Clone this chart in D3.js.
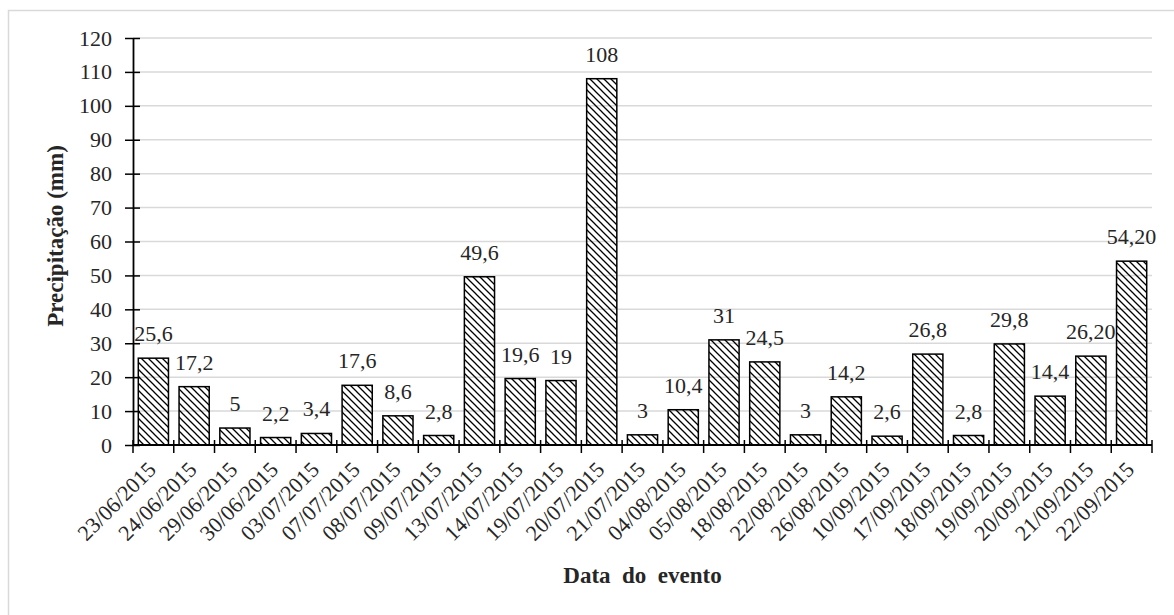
<!DOCTYPE html>
<html>
<head>
<meta charset="utf-8">
<script src="https://cdn.jsdelivr.net/npm/d3@7"></script>
<style>
  html, body { margin: 0; padding: 0; background: #fff; }
  svg { display: block; }
</style>
</head>
<body>
<div id="chart"></div>
<script>
const dates = ["23/06/2015", "24/06/2015", "29/06/2015", "30/06/2015", "03/07/2015",
  "07/07/2015", "08/07/2015", "09/07/2015", "13/07/2015", "14/07/2015", "19/07/2015",
  "20/07/2015", "21/07/2015", "04/08/2015", "05/08/2015", "18/08/2015", "22/08/2015",
  "26/08/2015", "10/09/2015", "17/09/2015", "18/09/2015", "19/09/2015", "20/09/2015",
  "21/09/2015", "22/09/2015"];
const rain = [25.6, 17.2, 5, 2.2, 3.4, 17.6, 8.6, 2.8, 49.6, 19.6, 19, 108, 3, 10.4,
  31, 24.5, 3, 14.2, 2.6, 26.8, 2.8, 29.8, 14.4, 26.2, 54.2];
const rainLabels = ["25,6", "17,2", "5", "2,2", "3,4", "17,6", "8,6", "2,8", "49,6",
  "19,6", "19", "108", "3", "10,4", "31", "24,5", "3", "14,2", "2,6", "26,8", "2,8",
  "29,8", "14,4", "26,20", "54,20"];
const yTicks = [0, 10, 20, 30, 40, 50, 60, 70, 80, 90, 100, 110, 120];

const width = 1174, height = 615;
const plotLeft = 133, plotRight = 1152, plotTop = 38, plotBottom = 445;
const font = "'Liberation Serif', 'Times New Roman', serif";
const textColor = "#262626";

const svg = d3.select("#chart").append("svg")
  .attr("width", width)
  .attr("height", height)
  .style("font-family", font);

// hatch fill (downward diagonal)
svg.append("defs").append("pattern")
  .attr("id", "hatch")
  .attr("patternUnits", "userSpaceOnUse")
  .attr("width", 7)
  .attr("height", 7)
  .append("path")
  .attr("d", "M-1,-1 L8,8 M-1,6 L1,8 M6,-1 L8,1")
  .attr("stroke", "#000")
  .attr("stroke-width", 1.3);

// outer chart border (only top & left visible)
svg.append("rect")
  .attr("x", 8.5).attr("y", 10.5)
  .attr("width", 1300).attr("height", 800)
  .attr("fill", "none")
  .attr("stroke", "#d9d9d9")
  .attr("stroke-width", 1.5);

const x = d3.scaleBand().domain(dates).range([plotLeft, plotRight]).paddingInner(0.26).paddingOuter(0.13);
const y = d3.scaleLinear().domain([0, 120]).range([plotBottom, plotTop]);

// gridlines
svg.append("g")
  .selectAll("line")
  .data(yTicks.filter(d => d > 0))
  .join("line")
  .attr("x1", plotLeft).attr("x2", plotRight)
  .attr("y1", d => y(d)).attr("y2", d => y(d))
  .attr("stroke", "#d9d9d9")
  .attr("stroke-width", 1.5);

// bars
svg.append("g")
  .selectAll("rect")
  .data(rain)
  .join("rect")
  .attr("x", (d, i) => x(dates[i]))
  .attr("y", d => y(d))
  .attr("width", x.bandwidth())
  .attr("height", d => y(0) - y(d))
  .attr("fill", "url(#hatch)")
  .attr("stroke", "#000")
  .attr("stroke-width", 1.5);

// value labels
svg.append("g")
  .selectAll("text")
  .data(rain)
  .join("text")
  .attr("x", (d, i) => x(dates[i]) + x.bandwidth() / 2)
  .attr("y", d => y(d) - 17)
  .attr("text-anchor", "middle")
  .attr("fill", textColor)
  .style("font-size", "22px")
  .text((d, i) => rainLabels[i]);

// y axis
const yAxis = svg.append("g")
  .attr("transform", `translate(${plotLeft},0)`)
  .call(d3.axisLeft(y).tickValues(yTicks).tickSize(8).tickPadding(13).tickSizeOuter(0));
yAxis.select(".domain").attr("stroke", "#000").attr("stroke-width", 1.8);
yAxis.selectAll(".tick line").attr("x1", 7).attr("stroke", "#000").attr("stroke-width", 1.5);
yAxis.selectAll(".tick text")
  .attr("fill", textColor)
  .style("font-family", font)
  .style("font-size", "22px");

// x axis: line + ticks at category boundaries
const bounds = d3.range(dates.length + 1).map(i => plotLeft + i * x.step());
svg.append("line")
  .attr("x1", plotLeft).attr("x2", plotRight)
  .attr("y1", plotBottom).attr("y2", plotBottom)
  .attr("stroke", "#000").attr("stroke-width", 1.8);
svg.append("g")
  .selectAll("line")
  .data(bounds)
  .join("line")
  .attr("x1", d => d).attr("x2", d => d)
  .attr("y1", plotBottom - 5).attr("y2", plotBottom + 8)
  .attr("stroke", "#000").attr("stroke-width", 1.5);

svg.append("g")
  .selectAll("text")
  .data(dates)
  .join("text")
  .attr("transform", d => `translate(${x(d) + x.bandwidth() / 2 + 4},${plotBottom + 26}) rotate(-45)`)
  .attr("text-anchor", "end")
  .attr("fill", textColor)
  .style("font-size", "22px")
  .text(d => d);

// axis titles
svg.append("text")
  .attr("transform", "translate(63,236) rotate(-90)")
  .attr("text-anchor", "middle")
  .attr("fill", textColor)
  .style("font-size", "23px")
  .style("font-weight", "bold")
  .text("Precipitação (mm)");

svg.append("text")
  .attr("x", (plotLeft + plotRight) / 2)
  .attr("y", 583)
  .attr("text-anchor", "middle")
  .attr("fill", textColor)
  .style("font-size", "23px")
  .style("font-weight", "bold")
  .style("white-space", "pre")
  .text("Data  do  evento");
</script>
</body>
</html>
